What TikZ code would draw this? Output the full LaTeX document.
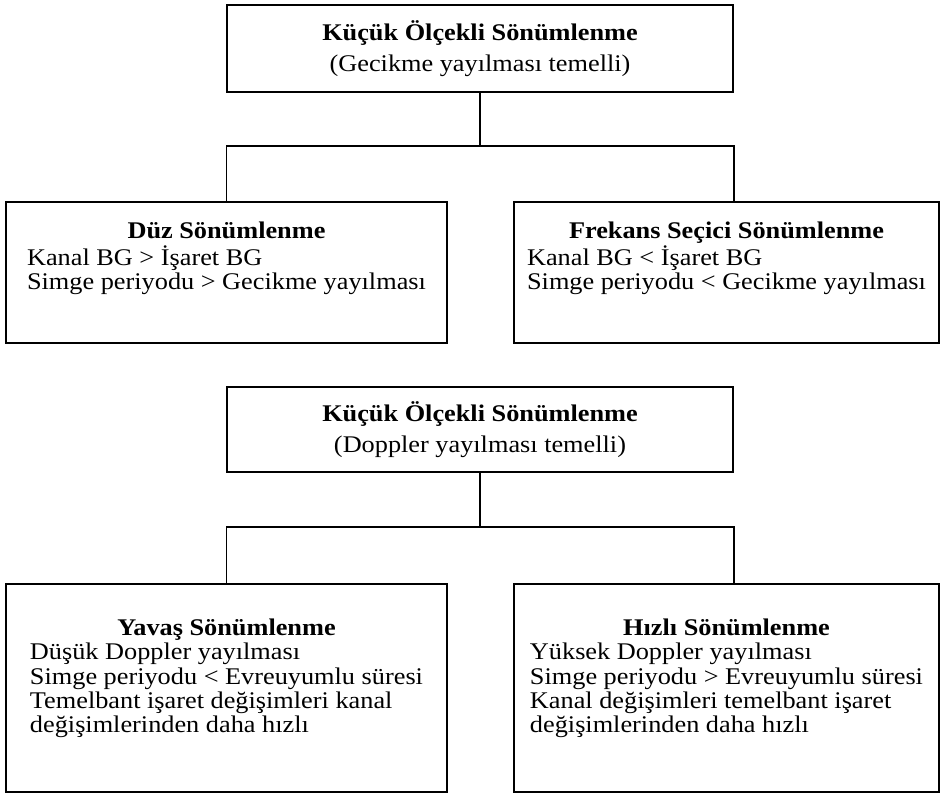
\documentclass[tikz,border=0pt]{standalone}
\usepackage{fontspec}
\setmainfont{Liberation Serif}[FakeStretch=1.1]
\usepackage{tikz}
\usetikzlibrary{positioning}

\newcommand{\baslik}[1]{\multicolumn{1}{@{}c@{}}{\textbf{#1}}}

\begin{document}
\begin{tikzpicture}[node distance=2cm, on grid, line width=1.1pt,
    ana/.style={draw, rectangle, align=center, inner sep=0pt,
        minimum width=10.12cm, font=\fontsize{13.6}{13.66}\selectfont},
    yaprak/.style={draw, rectangle, inner sep=0pt, text height=0.34cm,
        font=\fontsize{13.6}{13.66}\selectfont}]
    \useasboundingbox (0,0) rectangle (18.8,15.86);

    % gecikme yayilmasi
    \node[ana, minimum height=1.74cm] (ust) at (9.6,14.89)
        {\textbf{Küçük Ölçekli Sönümlenme}\\[0.14cm](Gecikme yayılması temelli)};
    \node[yaprak, minimum width=8.82cm, minimum height=2.82cm, text depth=1.68cm]
        (duz) [below left=4.48cm and 5.07cm of ust]
        {\begin{tabular}[t]{@{}l@{}}
            \baslik{Düz Sönümlenme}\\
            Kanal BG > İşaret BG\\
            Simge periyodu > Gecikme yayılması
        \end{tabular}};
    \node[yaprak, minimum width=8.5cm, minimum height=2.82cm, text depth=1.68cm]
        (frekans) [below right=4.48cm and 4.93cm of ust]
        {\begin{tabular}[t]{@{}l@{}}
            \baslik{Frekans Seçici Sönümlenme}\\
            Kanal BG < İşaret BG\\
            Simge periyodu < Gecikme yayılması
        \end{tabular}};

    % doppler yayilmasi
    \node[ana, minimum height=1.70cm] (orta) [below=7.62cm of ust]
        {\textbf{Küçük Ölçekli Sönümlenme}\\[0.14cm](Doppler yayılması temelli)};
    \node[yaprak, minimum width=8.82cm, minimum height=4.16cm, text depth=2.42cm]
        (yavas) [below left=5.17cm and 5.07cm of orta]
        {\begin{tabular}[t]{@{}l@{}}
            \baslik{Yavaş Sönümlenme}\\
            Düşük Doppler yayılması\\
            Simge periyodu < Evreuyumlu süresi\\
            Temelbant işaret değişimleri kanal\\
            değişimlerinden daha hızlı
        \end{tabular}};
    \node[yaprak, minimum width=8.5cm, minimum height=4.16cm, text depth=2.42cm]
        (hizli) [below right=5.17cm and 4.93cm of orta]
        {\begin{tabular}[t]{@{}l@{}}
            \baslik{Hızlı Sönümlenme}\\
            Yüksek Doppler yayılması\\
            Simge periyodu > Evreuyumlu süresi\\
            Kanal değişimleri temelbant işaret\\
            değişimlerinden daha hızlı
        \end{tabular}};

    % baglantilar
    \coordinate (b1) at (9.6,12.94);
    \coordinate (b2) at (9.6,5.32);
    \draw (ust) -- (b1);
    \draw (duz.north) |- (b1) -| (frekans.north -| ust.east);
    \draw (orta) -- (b2);
    \draw (yavas.north) |- (b2) -| (hizli.north -| orta.east);
\end{tikzpicture}
\end{document}
